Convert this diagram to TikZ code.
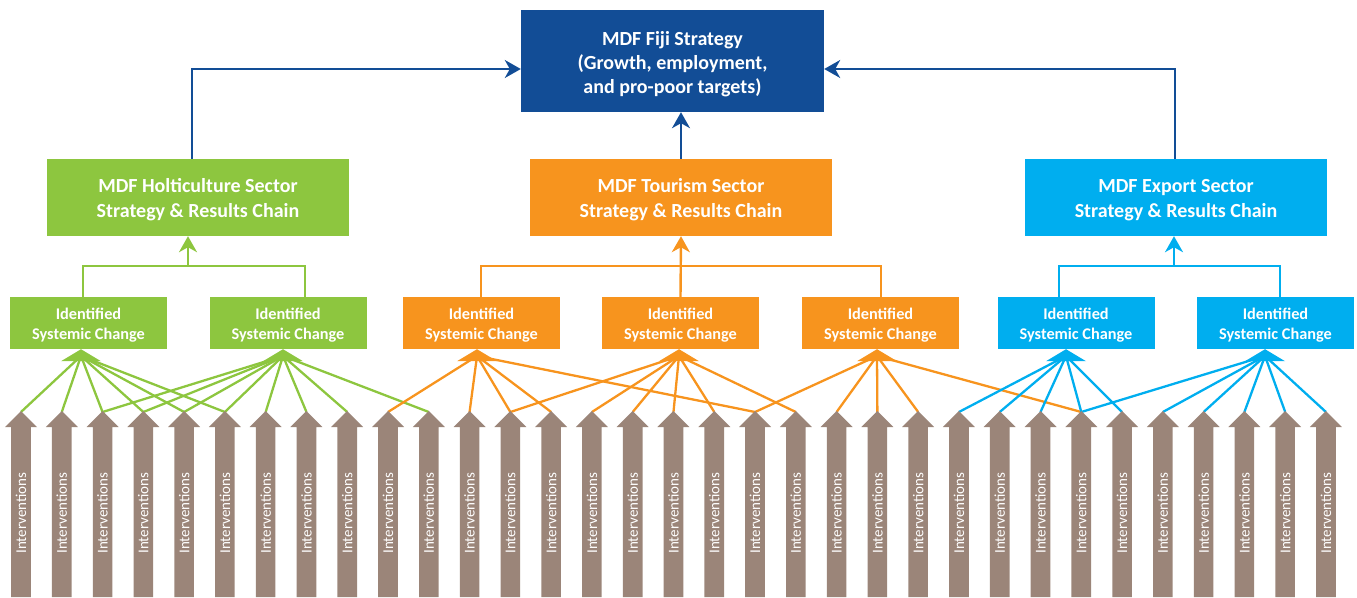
\documentclass[tikz,border=0pt]{standalone}
\usepackage{fontspec}
\setmainfont{Carlito}
\usetikzlibrary{arrows.meta}
\definecolor{mdfblue}{RGB}{18,77,150}
\definecolor{mdfgreen}{RGB}{141,198,63}
\definecolor{mdforange}{RGB}{247,148,30}
\definecolor{mdfcyan}{RGB}{0,174,239}
\definecolor{intv}{RGB}{155,133,121}
\begin{document}
\begin{tikzpicture}[x=1pt,y=-1pt,
  topbox/.style={fill=mdfblue,minimum width=303pt,minimum height=102pt,inner sep=0pt},
  toptext/.style={text=white,font=\bfseries\fontsize{20}{24}\selectfont,align=center,inner sep=0pt},
  secbox/.style={minimum width=302pt,minimum height=77pt,inner sep=0pt},
  sectext/.style={text=white,font=\bfseries\fontsize{20}{25}\selectfont,align=center,inner sep=0pt},
  scbox/.style={minimum width=157pt,minimum height=52pt,inner sep=0pt},
  sctext/.style={text=white,font=\bfseries\fontsize{16.3}{20}\selectfont,align=center,inner sep=0pt},
  bline/.style={draw=mdfblue,line width=2pt,-{Stealth[length=16pt,width=18pt,inset=5pt]}},
  upline/.style={line width=2.4pt,-{Stealth[length=16pt,width=18pt,inset=5pt]}},
  bracket/.style={line width=2.4pt},
  feed/.style={line width=2.3pt},
  ivtext/.style={text=white,font=\fontsize{15}{16}\selectfont,rotate=90,inner sep=0pt}
]
\useasboundingbox (0,0) rectangle (1357,597);

% ---- intervention-to-systemic-change feeders (drawn first) ----
\foreach \i in {1,...,33}{
  \pgfmathsetmacro\xx{21+(\i-1)*40.78}
  \coordinate (t\i) at (\xx,412);
}
\coordinate (g1c) at (81,356);
\coordinate (g2c) at (283,356);
\coordinate (o1c) at (477,356);
\coordinate (o2c) at (679,356);
\coordinate (o3c) at (877,356);
\coordinate (c1c) at (1066,356);
\coordinate (c2c) at (1265,356);
\foreach \i in {1,2,3,4,5,6}{\draw[feed,mdfgreen] (t\i) -- (g1c);}
\foreach \i in {3,4,5,6,7,8,9,11}{\draw[feed,mdfgreen] (t\i) -- (g2c);}
\foreach \i in {10,12,13,14,19}{\draw[feed,mdforange] (t\i) -- (o1c);}
\foreach \i in {13,15,16,17,18,20}{\draw[feed,mdforange] (t\i) -- (o2c);}
\foreach \i in {19,21,22,23,27}{\draw[feed,mdforange] (t\i) -- (o3c);}
\foreach \i in {24,25,26,27,28}{\draw[feed,mdfcyan] (t\i) -- (c1c);}
\foreach \i in {27,29,30,31,32,33}{\draw[feed,mdfcyan] (t\i) -- (c2c);}

% ---- intervention arrows ----
\foreach \i in {1,...,33}{
  \pgfmathsetmacro\xx{21+(\i-1)*40.78}
  \fill[intv] (\xx,411) -- (\xx+16,427) -- (\xx+9.8,427) -- (\xx+9.8,597) -- (\xx-9.8,597) -- (\xx-9.8,427) -- (\xx-16,427) -- cycle;
  \node[ivtext] (iv\i) at (\xx,513) {Interventions};
}

% ---- top box ----
\node[topbox] (top) at (672.5,61) {};
\node[toptext] (toptitle) at (672.5,64.5) {MDF Fiji Strategy\\(Growth, employment,\\and pro-poor targets)};

% ---- sector boxes ----
\node[secbox,fill=mdfgreen] (gsec) at (198,197.5) {};
\node[sectext] (gsectitle) at (198,200) {MDF Holticulture Sector\\Strategy \& Results Chain};
\node[secbox,fill=mdforange] (osec) at (681,197.5) {};
\node[sectext] (osectitle) at (681,200) {MDF Tourism Sector\\Strategy \& Results Chain};
\node[secbox,fill=mdfcyan] (csec) at (1176,197.5) {};
\node[sectext] (csectitle) at (1176,200) {MDF Export Sector\\Strategy \& Results Chain};

% ---- systemic change boxes ----
\foreach \n/\x/\c in {g1/88.5/mdfgreen, g2/288/mdfgreen, o1/481.5/mdforange, o2/680.5/mdforange, o3/880.5/mdforange, c1/1076/mdfcyan, c2/1275.5/mdfcyan}{
  \node[scbox,fill=\c] (\n) at (\x,323) {};
  \node[sctext] (\n title) at (\x,325) {Identified\\Systemic Change};
}

% ---- triangles under systemic change boxes ----
\fill[mdfgreen] ([xshift=-7.5pt]g1.south) -- ++(-20,12) -- ++(40,0) -- cycle;
\fill[mdfgreen] ([xshift=-5pt]g2.south) -- ++(-20,12) -- ++(40,0) -- cycle;
\fill[mdforange] ([xshift=-4.5pt]o1.south) -- ++(-20,12) -- ++(40,0) -- cycle;
\fill[mdforange] ([xshift=-1.5pt]o2.south) -- ++(-20,12) -- ++(40,0) -- cycle;
\fill[mdforange] ([xshift=-3.5pt]o3.south) -- ++(-20,12) -- ++(40,0) -- cycle;
\fill[mdfcyan] ([xshift=-10pt]c1.south) -- ++(-20,12) -- ++(40,0) -- cycle;
\fill[mdfcyan] ([xshift=-10.5pt]c2.south) -- ++(-20,12) -- ++(40,0) -- cycle;

% ---- brackets from systemic changes to sector boxes ----
\draw[bracket,mdfgreen] ([xshift=-5.5pt]g1.north) -- ++(0,-31) -| ([xshift=17pt]g2.north);
\draw[upline,mdfgreen] ([xshift=-10pt,yshift=-30pt]gsec.south) -- ([xshift=-10pt]gsec.south);
\draw[bracket,mdforange] ([xshift=-0.5pt]o1.north) -- ++(0,-31) -| ([xshift=0.5pt]o3.north);
\draw[upline,mdforange] (o2.north) -- (osec.south);
\draw[bracket,mdfcyan] ([xshift=-17pt]c1.north) -- ++(0,-31) -| ([xshift=4.5pt]c2.north);
\draw[upline,mdfcyan] ([xshift=-2pt,yshift=-30pt]csec.south) -- ([xshift=-2pt]csec.south);

% ---- sector boxes to top box ----
\coordinate (gin) at (top.west |- 0,69);
\coordinate (cin) at (top.east |- 0,69);
\draw[bline] ([xshift=-6pt]gsec.north) |- (gin);
\draw[bline] ([xshift=-1pt]csec.north) |- (cin);
\draw[bline] (osec.north) -- (osec.north |- top.south);
\end{tikzpicture}
\end{document}
